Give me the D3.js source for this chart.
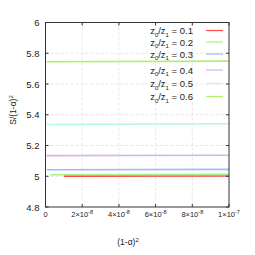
<!DOCTYPE html>
<html>
<head>
<meta charset="UTF-8">
<script src="https://d3js.org/d3.v7.min.js"></script>
<style>
  body { margin: 0; background: #fff; }
  text { font-family: 'Liberation Sans', Arial, sans-serif; fill: #222; }
</style>
</head>
<body>
<svg id="chart" width="255" height="255"></svg>
<script>
// ratios z0/z1 and the flat curves S/(1-a)^2 vs (1-a)^2
var ratios = ['0.1', '0.2', '0.3', '0.4', '0.5', '0.6'];
var colors = ['#ff4a4a', '#a8f08a', '#a4b8f2', '#d4b4f8', '#b4f8e4', '#b0f070'];
var startX = [1.0e-8, 2.6e-9, 0.7e-9, 0.5e-9, 0.5e-9, 0.5e-9];
var valuesStart = [5.001, 5.010, 5.042, 5.134, 5.337, 5.745];
var valuesEnd = [5.002, 5.012, 5.045, 5.137, 5.341, 5.749];
var xTicks = [0, 2e-8, 4e-8, 6e-8, 8e-8, 1e-7];
var xTickLabels = ['0', '2×10|-8', '4×10|-8', '6×10|-8', '8×10|-8', '1×10|-7'];
var yTicks = [4.8, 5, 5.2, 5.4, 5.6, 5.8, 6];

var pLeft = 45.5, pRight = 229, pTop = 22.5, pBottom = 207;
var svg = d3.select('#chart');

var x = d3.scaleLinear().domain([0, 1e-7]).range([pLeft, pRight]);
var y = d3.scaleLinear().domain([4.8, 6]).range([pBottom, pTop]);

// grid
svg.append('g').selectAll('line')
   .data(xTicks.slice(1, -1)).enter().append('line')
   .attr('x1', function(d) { return x(d); }).attr('x2', function(d) { return x(d); })
   .attr('y1', pTop).attr('y2', pBottom)
   .attr('stroke', '#dcdcdc').attr('stroke-width', 0.7).attr('stroke-dasharray', '3,2');
svg.append('g').selectAll('line')
   .data(yTicks.slice(1, -1)).enter().append('line')
   .attr('x1', pLeft).attr('x2', pRight)
   .attr('y1', function(d) { return y(d); }).attr('y2', function(d) { return y(d); })
   .attr('stroke', '#dcdcdc').attr('stroke-width', 0.7).attr('stroke-dasharray', '3,2');

// curves
var line = d3.line().x(function(d) { return x(d[0]); }).y(function(d) { return y(d[1]); });
ratios.forEach(function(r, i) {
  var pts = [[startX[i], valuesStart[i]], [1e-7, valuesEnd[i]]];
  svg.append('path').datum(pts)
     .attr('d', line)
     .attr('fill', 'none')
     .attr('stroke', colors[i])
     .attr('stroke-width', 1.6);
});

// frame
svg.append('rect')
   .attr('x', pLeft).attr('y', pTop)
   .attr('width', pRight - pLeft).attr('height', pBottom - pTop)
   .attr('fill', 'none').attr('stroke', '#333').attr('stroke-width', 1);

// ticks (inward, mirrored)
xTicks.forEach(function(t) {
  svg.append('line').attr('x1', x(t)).attr('x2', x(t)).attr('y1', pBottom).attr('y2', pBottom - 3).attr('stroke', '#333');
  svg.append('line').attr('x1', x(t)).attr('x2', x(t)).attr('y1', pTop).attr('y2', pTop + 3).attr('stroke', '#333');
});
yTicks.forEach(function(t) {
  svg.append('line').attr('x1', pLeft).attr('x2', pLeft + 3).attr('y1', y(t)).attr('y2', y(t)).attr('stroke', '#333');
  svg.append('line').attr('x1', pRight).attr('x2', pRight - 3).attr('y1', y(t)).attr('y2', y(t)).attr('stroke', '#333');
});

// tick labels
svg.append('g').selectAll('text')
   .data(yTicks).enter().append('text')
   .attr('x', pLeft - 6).attr('y', function(d) { return y(d) + 3.5; })
   .attr('text-anchor', 'end').attr('font-size', 9.5)
   .text(function(d) { return d3.format('')(d); });

xTickLabels.forEach(function(lab, i) {
  var parts = lab.split('|');
  var t = svg.append('text')
     .attr('x', x(xTicks[i])).attr('y', 217)
     .attr('text-anchor', 'middle').attr('font-size', 7.5);
  t.append('tspan').text(parts[0]);
  if (parts[1]) t.append('tspan').attr('dy', -3).attr('font-size', 5.5).text(parts[1]);
});

// axis titles
var xt = svg.append('text').attr('x', 128).attr('y', 245).attr('text-anchor', 'middle').attr('font-size', 8.5);
xt.append('tspan').text('(1-α)');
xt.append('tspan').attr('dy', -3).attr('font-size', 6).text('2');

var yt = svg.append('text').attr('transform', 'translate(16,110) rotate(-90)')
   .attr('text-anchor', 'middle').attr('font-size', 8.5);
yt.append('tspan').text('S/(1-α)');
yt.append('tspan').attr('dy', -3).attr('font-size', 6).text('2');

// legend
var legendY = [30.5, 42, 54, 70, 83.5, 96.5];
ratios.forEach(function(r, i) {
  var g = svg.append('g').attr('transform', 'translate(0,' + legendY[i] + ')');
  var t = g.append('text').attr('x', 193).attr('y', 3.5).attr('text-anchor', 'end').attr('font-size', 9.5);
  t.append('tspan').text('z');
  t.append('tspan').attr('dy', 2.5).attr('font-size', 6).text('0');
  t.append('tspan').attr('dy', -2.5).text('/z');
  t.append('tspan').attr('dy', 2.5).attr('font-size', 6).text('1');
  t.append('tspan').attr('dy', -2.5).text(' = ' + r);
  g.append('line').attr('x1', 206).attr('x2', 223).attr('y1', 0).attr('y2', 0)
   .attr('stroke', colors[i]).attr('stroke-width', 1.2);
});
</script>
</body>
</html>
